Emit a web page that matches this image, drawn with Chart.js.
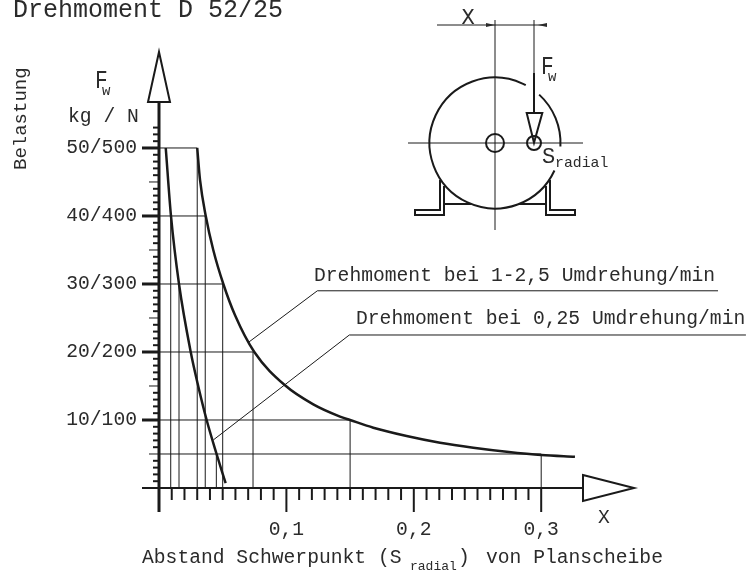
<!DOCTYPE html>
<html>
<head>
<meta charset="utf-8">
<title>Drehmoment D 52/25</title>
<script src="https://cdn.jsdelivr.net/npm/chart.js@4"></script>
<style>
  html, body { margin: 0; padding: 0; background: #fff; }
  canvas { display: block; }
</style>
</head>
<body>
<canvas id="chart" width="750" height="574"></canvas>
<script>
// Kurve 1-2,5 Umdrehung/min
const kurve1X = [0.03, 0.0322, 0.0367, 0.0426, 0.0505, 0.0597, 0.0748, 0.0989, 0.1211, 0.1421, 0.15, 0.1682, 0.1944, 0.2206, 0.2467, 0.2729, 0.3001, 0.3265];
const kurve1Y = [50, 45.3, 40, 35, 30, 25.4, 20, 15.1, 12.3, 10.5, 10, 8.87, 7.65, 6.66, 5.93, 5.34, 4.85, 4.6];

// Kurve 0,25 Umdrehung/min
const kurve2X = [0.0053, 0.0094, 0.0157, 0.0249, 0.0309, 0.0374, 0.0452, 0.0523];
const kurve2Y = [50, 40, 30, 20, 14.9, 10, 5, 0.7];

// Hilfslinien: waagerecht bis zur Kurve
const waagerechtY = [50, 40, 30, 20, 10, 5];
const waagerechtX = [0.03, 0.0367, 0.05, 0.0738, 0.15, 0.3];

// Hilfslinien: senkrecht bis zur Achse
const senkrechtX = [0.0092, 0.0157, 0.03, 0.0363, 0.045, 0.05, 0.0738, 0.15, 0.3];
const senkrechtY = [40, 30, 50, 40, 5, 30, 20, 10, 5];

// Bezugslinien zu den Beschriftungen
const bezug1X = [0.0701, 0.1243, 0.4388];
const bezug1Y = [21.4, 29, 29];
const bezug2X = [0.0426, 0.1494, 0.4607];
const bezug2Y = [7.06, 22.5, 22.5];

// Achsen
const xTickWerte = [0.1, 0.2, 0.3];
const xTickTexte = ['0,1', '0,2', '0,3'];
const yTickWerte = [10, 20, 30, 40, 50];
const yTickTexte = ['10/100', '20/200', '30/300', '40/400', '50/500'];

const dunkel = '#1a1a1a';
const textFarbe = '#2b2b2b';
const mono = '"Liberation Mono", monospace';

function punkte(xs, ys) {
    return xs.map((x, i) => ({ x: x, y: ys[i] }));
}

function linie(data, breite, extra) {
    return Object.assign({
        data: data,
        showLine: true,
        fill: false,
        borderColor: dunkel,
        borderWidth: breite,
        pointRadius: 0,
        clip: false
    }, extra);
}

const datasets = [];
waagerechtY.forEach((y, i) => {
    datasets.push(linie([{ x: 0, y: y }, { x: waagerechtX[i], y: y }], 1));
});
senkrechtX.forEach((x, i) => {
    datasets.push(linie([{ x: x, y: 0 }, { x: x, y: senkrechtY[i] }], 1));
});
datasets.push(linie(punkte(bezug1X, bezug1Y), 1));
datasets.push(linie(punkte(bezug2X, bezug2Y), 1));
datasets.push(linie(punkte(kurve1X, kurve1Y), 2.5, { cubicInterpolationMode: 'monotone' }));
datasets.push(linie(punkte(kurve2X, kurve2Y), 2.5, { cubicInterpolationMode: 'monotone' }));

function strich(ctx, x1, y1, x2, y2, breite) {
    ctx.lineWidth = breite;
    ctx.beginPath();
    ctx.moveTo(x1, y1);
    ctx.lineTo(x2, y2);
    ctx.stroke();
}

function pfad(ctx, pts, breite, schliessen) {
    ctx.lineWidth = breite;
    ctx.beginPath();
    pts.forEach((p, i) => i ? ctx.lineTo(p[0], p[1]) : ctx.moveTo(p[0], p[1]));
    if (schliessen) ctx.closePath();
    ctx.stroke();
}

function text(ctx, s, x, y, groesse, ausrichtung) {
    ctx.font = groesse + 'px ' + mono;
    ctx.textAlign = ausrichtung || 'left';
    ctx.fillText(s, x, y);
}

// F mit tiefgestelltem w, schmal wie im Original
function fw(ctx, x, y) {
    ctx.save();
    ctx.translate(x, y);
    ctx.scale(0.85, 1);
    text(ctx, 'F', 0, 0, 25);
    ctx.restore();
    text(ctx, 'w', x + 7, y + 7, 14);
}

function grad(g) {
    return g * Math.PI / 180;
}

// Achsen, Pfeile, Teilstriche und die Skizze oben rechts
const zeichnung = {
    id: 'zeichnung',
    afterDatasetsDraw(chart) {
        const ctx = chart.ctx;
        const sx = chart.scales.x;
        const sy = chart.scales.y;
        const x0 = sx.getPixelForValue(0);
        const y0 = sy.getPixelForValue(0);

        ctx.save();
        ctx.strokeStyle = dunkel;
        ctx.fillStyle = textFarbe;
        ctx.lineJoin = 'miter';
        ctx.textBaseline = 'alphabetic';

        // x-Achse
        strich(ctx, 142, y0, 583, y0, 2);
        pfad(ctx, [[583, 475], [634, 488], [583, 501]], 2, true);
        for (let i = 1; i <= 30; i++) {
            const px = sx.getPixelForValue(i / 100);
            strich(ctx, px, y0, px, y0 + (i % 10 === 0 ? 24 : 12), 2);
        }

        // y-Achse
        strich(ctx, x0, y0 + 24, x0, 102, 3);
        pfad(ctx, [[148, 102], [170, 102], [159, 52]], 2, true);
        for (let i = 1; i <= 53; i++) {
            const py = sy.getPixelForValue(i);
            if (i % 10 === 0) strich(ctx, x0 - 17, py, x0, py, 3);
            else if (i % 5 === 0) strich(ctx, x0 - 10, py, x0, py, 1);
            else strich(ctx, x0 - 6, py, x0, py, 2);
        }

        // Skizze
        strich(ctx, 437, 25, 547, 25, 1);
        strich(ctx, 495, 20, 495, 230, 1);
        strich(ctx, 408, 143, 583, 143, 1);
        strich(ctx, 534, 20, 534, 73, 1);
        strich(ctx, 534, 73, 534, 113, 2);
        ctx.beginPath();
        ctx.moveTo(495, 25); ctx.lineTo(486, 23); ctx.lineTo(486, 27); ctx.closePath();
        ctx.moveTo(538, 25); ctx.lineTo(547, 23); ctx.lineTo(547, 27); ctx.closePath();
        ctx.fill();

        ctx.lineWidth = 2;
        ctx.beginPath();
        ctx.arc(495, 143, 65.5, grad(-47.6), grad(3));
        ctx.stroke();
        ctx.beginPath();
        ctx.arc(495, 143, 65.5, grad(24.8), grad(298));
        ctx.stroke();
        ctx.beginPath();
        ctx.arc(495, 143, 9, 0, Math.PI * 2);
        ctx.stroke();
        ctx.beginPath();
        ctx.arc(534, 143, 7, 0, Math.PI * 2);
        ctx.stroke();
        pfad(ctx, [[526.7, 113], [542.3, 113], [534, 142.7]], 2, true);

        pfad(ctx, [[440, 180], [440, 210], [415, 210], [415, 215], [444, 215], [444, 186]], 2);
        pfad(ctx, [[550, 180], [550, 210], [575, 210], [575, 215], [546, 215], [546, 186]], 2);
        strich(ctx, 444, 204, 471, 204, 2);
        strich(ctx, 519, 204, 546, 204, 2);

        // Beschriftung
        text(ctx, 'Drehmoment D 52/25', 13, 17, 25);
        text(ctx, 'kg / N', 68, 122, 19.67);
        text(ctx, 'Drehmoment bei 1-2,5 Umdrehung/min', 314, 281, 19.67);
        text(ctx, 'Drehmoment bei 0,25 Umdrehung/min', 356, 324, 19.67);
        text(ctx, 'X', 604, 523, 19.67, 'center');
        text(ctx, 'X', 468, 24, 22, 'center');
        text(ctx, 'Abstand Schwerpunkt (S', 142, 563, 19.67);
        text(ctx, 'radial', 410, 570, 13);
        text(ctx, ')', 458, 563, 19.67);
        text(ctx, 'von Planscheibe', 486, 563, 19.67);
        text(ctx, 'S', 542, 163, 22);
        text(ctx, 'radial', 555, 167, 14.8);
        fw(ctx, 95, 88);
        fw(ctx, 541, 74);

        ctx.save();
        ctx.translate(26, 170);
        ctx.rotate(-Math.PI / 2);
        text(ctx, 'Belastung', 0, 0, 19);
        ctx.restore();

        ctx.restore();
    }
};

new Chart(document.getElementById('chart'), {
    type: 'scatter',
    data: { datasets: datasets },
    plugins: [zeichnung],
    options: {
        responsive: false,
        animation: false,
        layout: { padding: 0 },
        plugins: { legend: { display: false }, tooltip: { enabled: false }, title: { display: false } },
        scales: {
            x: {
                type: 'linear',
                min: 0,
                max: 0.4639,
                border: { display: false },
                grid: { display: false, drawTicks: false },
                afterFit(scale) {
                    scale.height = 86;
                    scale.paddingLeft = 0;
                    scale.paddingRight = 0;
                },
                afterBuildTicks(scale) { scale.ticks = xTickWerte.map(v => ({ value: v })); },
                ticks: {
                    autoSkip: false,
                    maxRotation: 0,
                    padding: 30,
                    color: textFarbe,
                    font: { family: mono, size: 19.67 },
                    callback(value) { return xTickTexte[xTickWerte.indexOf(value)]; }
                }
            },
            y: {
                type: 'linear',
                min: 0,
                max: 71.76,
                border: { display: false },
                grid: { display: false, drawTicks: false },
                afterFit(scale) {
                    scale.width = 159;
                    scale.paddingTop = 0;
                    scale.paddingBottom = 0;
                },
                afterBuildTicks(scale) { scale.ticks = yTickWerte.map(v => ({ value: v })); },
                ticks: {
                    autoSkip: false,
                    padding: 22,
                    color: textFarbe,
                    font: { family: mono, size: 19.67 },
                    callback(value) { return yTickTexte[yTickWerte.indexOf(value)]; }
                }
            }
        }
    }
});
</script>
</body>
</html>
